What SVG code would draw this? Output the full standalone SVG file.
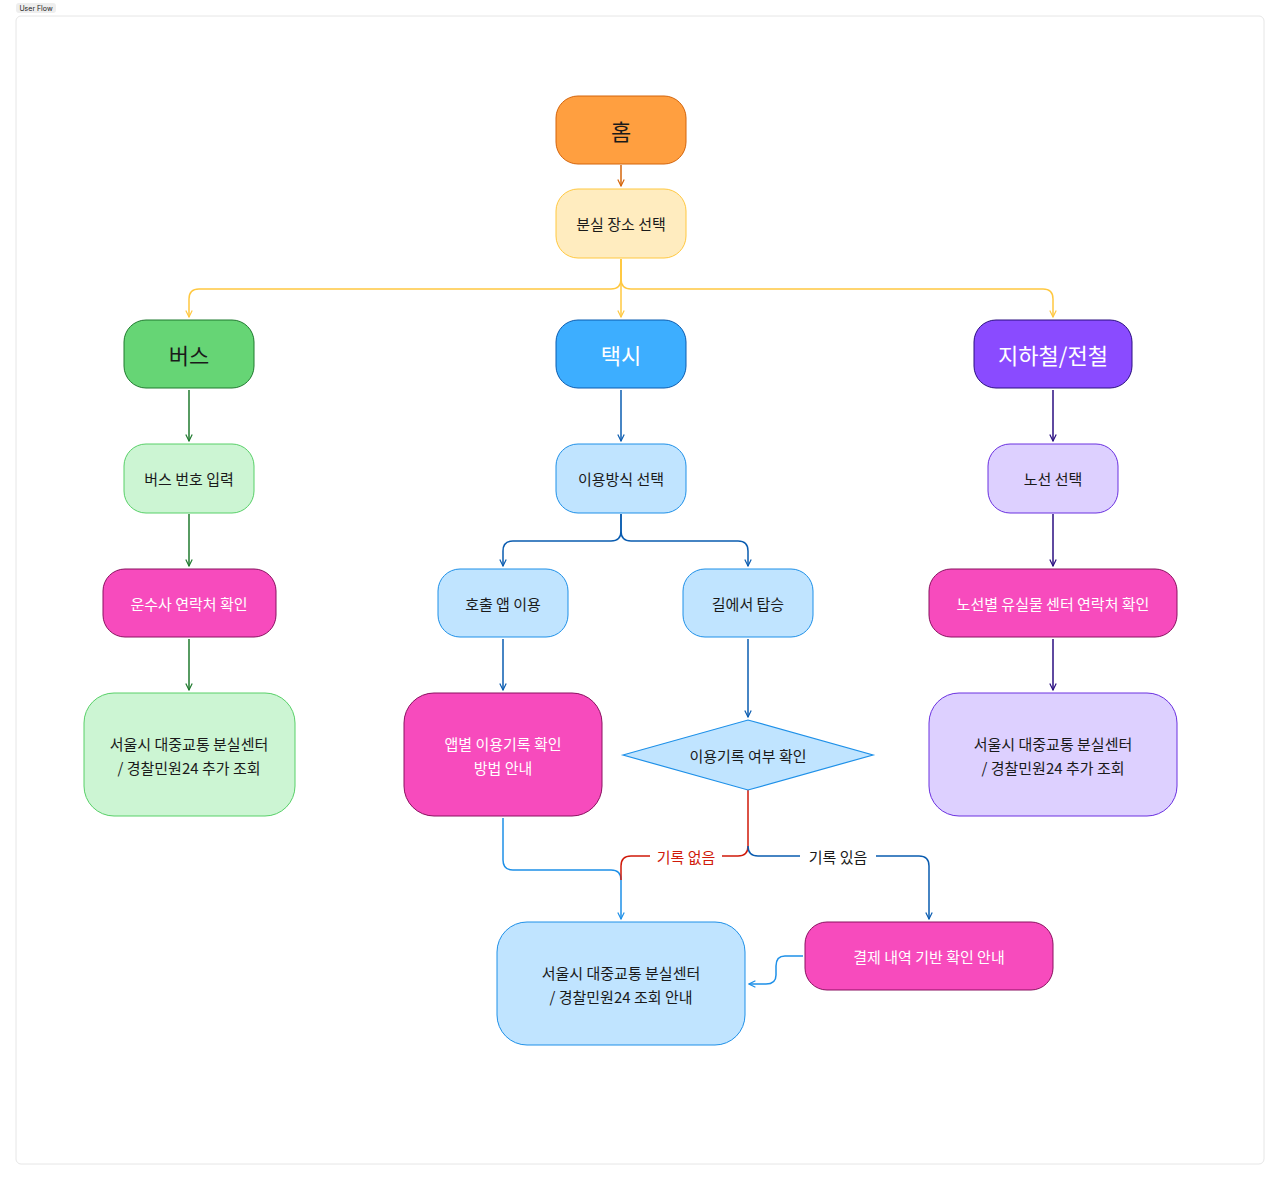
<svg xmlns="http://www.w3.org/2000/svg" width="1280" height="1180" viewBox="0 0 1280 1180">
<style>
text{font-family:"Noto Sans CJK KR","Noto Sans",sans-serif;text-anchor:middle;dominant-baseline:central;font-size:15px;fill:#1a1a1a}
.w{fill:#fff}.big{font-size:22px}
.c{fill:none;stroke-width:1.5}
</style>
<defs>
<marker id="a" viewBox="0 0 10 10" refX="9" refY="5" markerWidth="8" markerHeight="8" orient="auto-start-reverse" markerUnits="userSpaceOnUse"><path d="M1,1 L9,5 L1,9" fill="none" stroke="context-stroke" stroke-width="1.5"/></marker>
</defs>
<rect width="1280" height="1180" fill="#fff"/>
<rect x="16" y="16" width="1248" height="1148" rx="5" fill="#fff" stroke="#e6e6e6"/>
<rect x="16" y="3" width="40" height="10" rx="3" fill="#eee"/>
<text x="36" y="8" style="font-size:7px;font-family:Inter,sans-serif">User Flow</text>
<g id="connectors">
<path class="c" stroke="#D4640A" d="M621,165 V186" marker-end="url(#a)"/>
<path class="c" stroke="#FFC840" d="M621,259 V279 Q621,289 611,289 H199 Q189,289 189,299 V317" marker-end="url(#a)"/>
<path class="c" stroke="#FFC840" d="M621,259 V317" marker-end="url(#a)"/>
<path class="c" stroke="#FFC840" d="M621,259 V279 Q621,289 631,289 H1043 Q1053,289 1053,299 V317" marker-end="url(#a)"/>
<path class="c" stroke="#1F7A2E" d="M189,390 V441" marker-end="url(#a)"/>
<path class="c" stroke="#1F7A2E" d="M189,514 V566" marker-end="url(#a)"/>
<path class="c" stroke="#1F7A2E" d="M189,639 V690" marker-end="url(#a)"/>
<path class="c" stroke="#0A5CB0" d="M621,390 V441" marker-end="url(#a)"/>
<path class="c" stroke="#0A5CB0" d="M621,514 V531 Q621,541 611,541 H513 Q503,541 503,551 V566" marker-end="url(#a)"/>
<path class="c" stroke="#0A5CB0" d="M621,514 V531 Q621,541 631,541 H738 Q748,541 748,551 V566" marker-end="url(#a)"/>
<path class="c" stroke="#0A5CB0" d="M503,639 V690" marker-end="url(#a)"/>
<path class="c" stroke="#0A5CB0" d="M748,639 V717" marker-end="url(#a)"/>
<path class="c" stroke="#2A0E80" d="M1053,390 V441" marker-end="url(#a)"/>
<path class="c" stroke="#2A0E80" d="M1053,514 V566" marker-end="url(#a)"/>
<path class="c" stroke="#2A0E80" d="M1053,639 V690" marker-end="url(#a)"/>
<path class="c" stroke="#1E90E8" d="M503,818 V860 Q503,870 513,870 H611 Q621,870 621,880 V919" marker-end="url(#a)"/>
<path class="c" stroke="#D01A0A" d="M748,790 V846 Q748,856 738,856 H722 M650,856 H631 Q621,856 621,866 V880"/>
<text x="686" y="856" style="fill:#D01A0A">기록 없음</text>
<path class="c" stroke="#0A5CB0" d="M748,846 Q748,856 758,856 H800 M876,856 H919 Q929,856 929,866 V919" marker-end="url(#a)"/>
<text x="838" y="856">기록 있음</text>
<path class="c" stroke="#1E90E8" d="M803,956 H785 Q776,956 776,966 V975 Q776,984 766,984 H749" marker-end="url(#a)"/>
</g>
<g id="home"><rect x="556" y="96" width="130" height="68" rx="22" fill="#FF9F40" stroke="#D4640A"/><text x="621" y="130" class="big">홈</text></g>
<g id="place"><rect x="556" y="189" width="130" height="69" rx="22" fill="#FFECBF" stroke="#FFC840"/><text x="621" y="223">분실 장소 선택</text></g>
<g id="bus"><rect x="124" y="320" width="130" height="68" rx="22" fill="#66D575" stroke="#1F7A2E"/><text x="189" y="354" class="big">버스</text></g>
<g id="taxi"><rect x="556" y="320" width="130" height="68" rx="22" fill="#3DAEFF" stroke="#0A5CB0"/><text x="621" y="354" class="big w">택시</text></g>
<g id="subway"><rect x="974" y="320" width="158" height="68" rx="22" fill="#8A4BFF" stroke="#2A0E80"/><text x="1053" y="354" class="big w">지하철/전철</text></g>
<g id="busnum"><rect x="124" y="444" width="130" height="69" rx="22" fill="#CCF5D3" stroke="#58D068"/><text x="189" y="478">버스 번호 입력</text></g>
<g id="usage"><rect x="556" y="444" width="130" height="69" rx="22" fill="#C0E4FF" stroke="#1E90E8"/><text x="621" y="478">이용방식 선택</text></g>
<g id="line"><rect x="988" y="444" width="130" height="69" rx="22" fill="#DDD0FF" stroke="#6A30E0"/><text x="1053" y="478">노선 선택</text></g>
<g id="carrier"><rect x="103" y="569" width="173" height="68" rx="22" fill="#F74BBD" stroke="#8A1060"/><text x="189" y="603" class="w">운수사 연락처 확인</text></g>
<g id="app"><rect x="438" y="569" width="130" height="68" rx="22" fill="#C0E4FF" stroke="#1E90E8"/><text x="503" y="603">호출 앱 이용</text></g>
<g id="street"><rect x="683" y="569" width="130" height="68" rx="22" fill="#C0E4FF" stroke="#1E90E8"/><text x="748" y="603">길에서 탑승</text></g>
<g id="linecenter"><rect x="929" y="569" width="248" height="68" rx="22" fill="#F74BBD" stroke="#8A1060"/><text x="1053" y="603" class="w">노선별 유실물 센터 연락처 확인</text></g>
<g id="busfinal"><rect x="84" y="693" width="211" height="123" rx="30" fill="#CCF5D3" stroke="#58D068"/><text x="189" y="743">서울시 대중교통 분실센터</text><text x="189" y="767">/ 경찰민원24 추가 조회</text></g>
<g id="appguide"><rect x="404" y="693" width="198" height="123" rx="30" fill="#F74BBD" stroke="#8A1060"/><text x="503" y="743" class="w">앱별 이용기록 확인</text><text x="503" y="767" class="w">방법 안내</text></g>
<g id="check"><path d="M623,755 L748,720 L873,755 L748,790 Z" fill="#C0E4FF" stroke="#1E90E8" stroke-width="1.2"/><text x="748" y="755">이용기록 여부 확인</text></g>
<g id="subfinal"><rect x="929" y="693" width="248" height="123" rx="30" fill="#DDD0FF" stroke="#6A30E0"/><text x="1053" y="743">서울시 대중교통 분실센터</text><text x="1053" y="767">/ 경찰민원24 추가 조회</text></g>
<g id="taxifinal"><rect x="497" y="922" width="248" height="123" rx="30" fill="#C0E4FF" stroke="#1E90E8"/><text x="621" y="972">서울시 대중교통 분실센터</text><text x="621" y="996">/ 경찰민원24 조회 안내</text></g>
<g id="payment"><rect x="805" y="922" width="248" height="68" rx="22" fill="#F74BBD" stroke="#8A1060"/><text x="929" y="956" class="w">결제 내역 기반 확인 안내</text></g>
</svg>
